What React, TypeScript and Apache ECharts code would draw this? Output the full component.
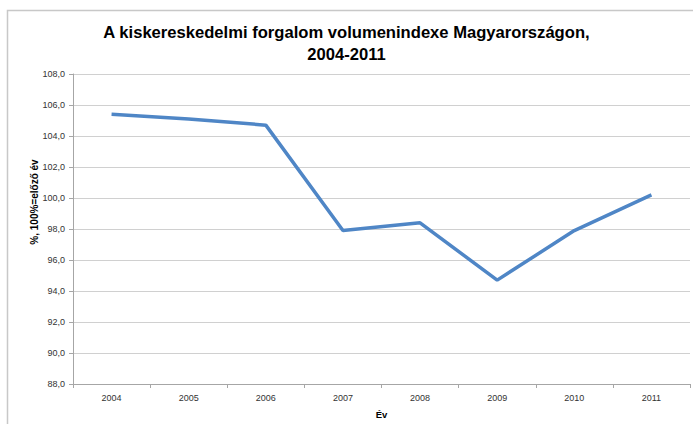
import React, { useEffect, useRef } from "react";
import * as echarts from "echarts";

const years = ["2004", "2005", "2006", "2007", "2008", "2009", "2010", "2011"];
const volumeIndex = [105.4, 105.1, 104.7, 97.9, 98.4, 94.7, 97.9, 100.2];
const titleText = "A kiskereskedelmi forgalom volumenindexe Magyarországon,\n2004-2011";
const yAxisName = "%, 100%=előző év";
const xAxisName = "Év";

export default function App() {
  const ref = useRef<HTMLDivElement>(null);
  useEffect(() => {
    if (!ref.current) return;
    const chart = echarts.init(ref.current, undefined, { renderer: "svg" });
    chart.setOption({
      animation: false,
      backgroundColor: "#ffffff",
      textStyle: { fontFamily: "Liberation Sans, Arial, sans-serif" },
      title: {
        text: titleText,
        left: "center",
        top: 16,
        textStyle: {
          fontFamily: "Liberation Sans, Arial, sans-serif",
          fontSize: 16.6,
          fontWeight: "bold",
          color: "#000",
          lineHeight: 22,
        },
      },
      graphic: [
        {
          type: "rect",
          shape: { x: 7.5, y: 10.5, width: 720, height: 500 },
          style: { fill: "none", stroke: "#c8c8c8", lineWidth: 1.5 },
          silent: true,
        },
        {
          type: "text",
          x: 34,
          y: 202,
          rotation: Math.PI / 2,
          style: {
            text: yAxisName,
            fontSize: 10,
            fontWeight: "bold",
            fontFamily: "Liberation Sans, Arial, sans-serif",
            fill: "#000",
            align: "center",
            verticalAlign: "middle",
          },
          silent: true,
        },
      ],
      grid: { left: 73, right: 3, top: 74, bottom: 34, containLabel: false },
      xAxis: {
        type: "category",
        data: years,
        boundaryGap: true,
        name: xAxisName,
        nameLocation: "middle",
        nameGap: 25,
        nameTextStyle: { fontSize: 9.5, fontWeight: "bold", color: "#000" },
        axisLine: { lineStyle: { color: "#a6a6a6" } },
        axisTick: { show: true, length: 4, lineStyle: { color: "#a6a6a6" } },
        axisLabel: { fontSize: 9, color: "#333", margin: 9 },
      },
      yAxis: {
        type: "value",
        min: 88,
        max: 108,
        interval: 2,
        axisLine: { show: true, lineStyle: { color: "#a6a6a6" } },
        axisTick: { show: true, length: 4, lineStyle: { color: "#a6a6a6" } },
        axisLabel: {
          fontSize: 9,
          color: "#333",
          margin: 8,
          formatter: (v: number) => v.toFixed(1).replace(".", ","),
        },
        splitLine: { lineStyle: { color: "#d0d0d0", width: 1.2 } },
      },
      series: [
        {
          type: "line",
          data: volumeIndex,
          symbol: "none",
          lineStyle: { color: "#4f86c6", width: 3.5 },
          itemStyle: { color: "#4f86c6" },
        },
      ],
    });
    return () => chart.dispose();
  }, []);
  return (
    <div
      ref={ref}
      style={{ position: "fixed", left: 0, top: 0, width: 693, height: 424 }}
    />
  );
}
